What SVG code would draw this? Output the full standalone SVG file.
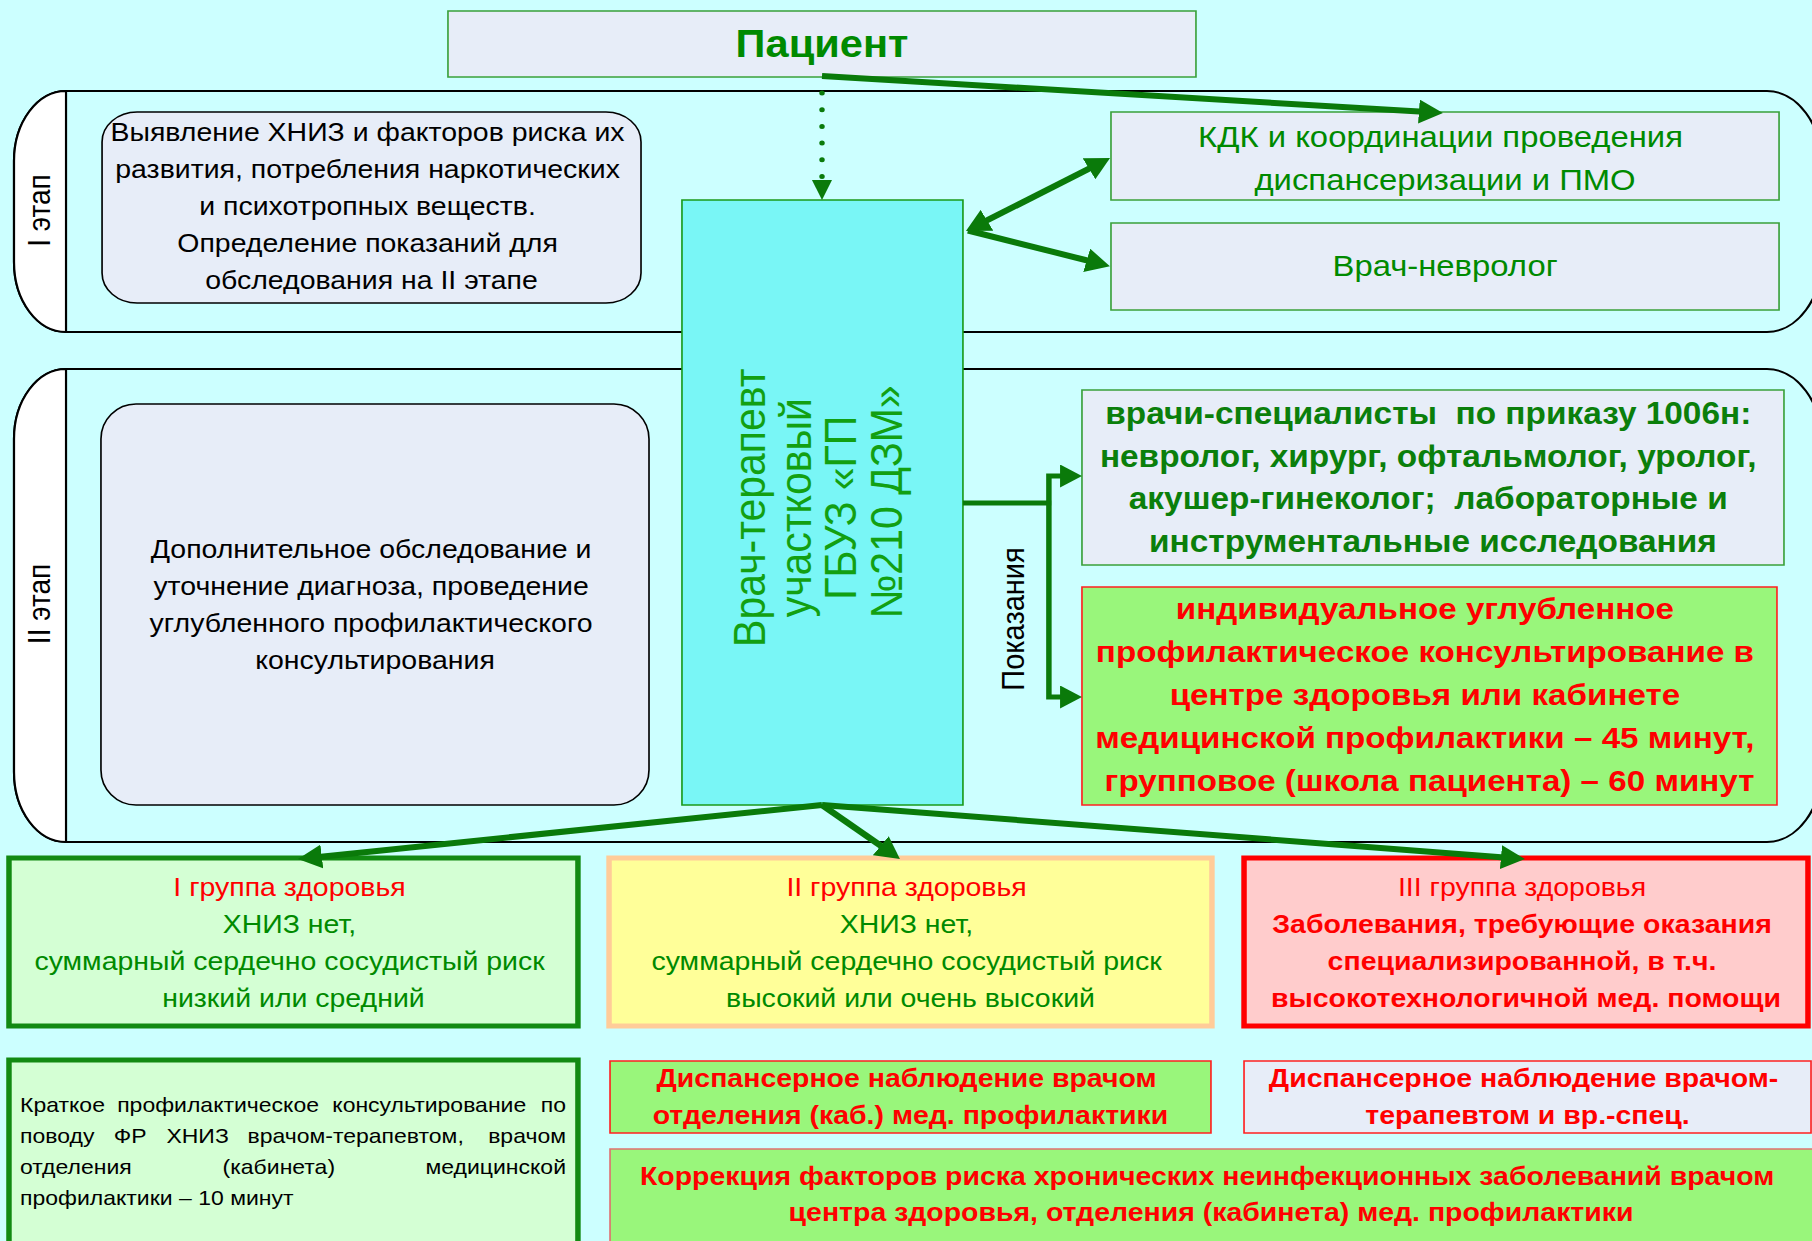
<svg xmlns="http://www.w3.org/2000/svg" width="1812" height="1241" viewBox="0 0 1812 1241">
<defs>
<style>
text{font-family:"Liberation Sans",Arial,sans-serif}
.c{text-anchor:middle}
.e{text-anchor:end}
.b{font-weight:bold}
.gr{fill:#008a00}
.gb{fill:#0b7f0b}
.rd{fill:#ff0000}
.bk{fill:#000}
.lane{fill:#ccffff;stroke:#000;stroke-width:2}
.cap{fill:#fff;stroke:#000;stroke-width:2}
.pale{fill:#e7edf8}
.lg{fill:#99f67b}
.gs{stroke:#3aa03a;stroke-width:1.5}
.rs{stroke:#ff2020;stroke-width:1.5}
.con{fill:none;stroke:#0a7a0a;stroke-width:6}
.con2{fill:none;stroke:#0a7a0a;stroke-width:5}
</style>
<marker id="ah" viewBox="0 0 22 24" markerWidth="22" markerHeight="24" refX="12" refY="12" orient="auto-start-reverse" markerUnits="userSpaceOnUse"><path d="M0,0 L22,12 L0,24 Z" fill="#0a7a0a"/></marker>
<marker id="ah2" viewBox="0 0 20 23" markerWidth="20" markerHeight="23" refX="10" refY="11.5" orient="auto-start-reverse" markerUnits="userSpaceOnUse"><path d="M0,0 L20,11.5 L0,23 Z" fill="#0a7a0a"/></marker>
</defs>
<rect width="1812" height="1241" fill="#ccffff"/>
<g transform="scale(1.095 1)">

<g id="lane1">
<path class="lane" d="M60.3,91 H1613.7 A50.3,75 0 0 1 1664,166 V257 A50.3,75 0 0 1 1613.7,332 H60.3 A47.5,70 0 0 1 12.8,262 V161 A47.5,70 0 0 1 60.3,91 Z"/>
<path class="cap" d="M60.3,91 A47.5,70 0 0 0 12.8,161 V262 A47.5,70 0 0 0 60.3,332 Z"/>
<g transform="translate(46,210.5) rotate(-90)"><text class="c bk" font-size="28">I этап</text></g>
</g>

<g id="lane2">
<path class="lane" d="M60.3,369 H1613.7 A50.3,75 0 0 1 1664,444 V767 A50.3,75 0 0 1 1613.7,842 H60.3 A47.5,70 0 0 1 12.8,772 V439 A47.5,70 0 0 1 60.3,369 Z"/>
<path class="cap" d="M60.3,369 A47.5,70 0 0 0 12.8,439 V772 A47.5,70 0 0 0 60.3,842 Z"/>
<g transform="translate(46,604) rotate(-90)"><text class="c bk" font-size="28">II этап</text></g>
</g>

<g id="patient">
<rect x="409.1" y="11" width="683.1" height="66" class="pale gs"/>
<text x="750.7" y="57" class="c b gr" font-size="38">Пациент</text>
</g>

<g id="stage1-desc">
<rect x="93.2" y="112" width="492.2" height="191" rx="32" ry="30" class="pale" stroke="#000" stroke-width="1.5"/>
<text class="c bk" font-size="26">
<tspan x="339.3" y="141">Выявление ХНИЗ и факторов риска их</tspan>
<tspan x="339.3" y="178">развития, потребления наркотических</tspan>
<tspan x="339.3" y="215">и психотропных веществ.</tspan>
<tspan x="339.3" y="252">Определение показаний для</tspan>
<tspan x="339.3" y="289">обследования на II этапе</tspan>
</text>
</g>

<g id="therapist">
<rect x="622.8" y="200" width="256.6" height="605" fill="#79f6f6" stroke="#1a9a1a" stroke-width="1.5"/>
<g transform="translate(698.6,502) rotate(-90)">
<text class="c" font-size="41" fill="#12a012">
<tspan x="0" y="0">Врач-терапевт</tspan>
<tspan x="0" y="41.6">участковый</tspan>
<tspan x="0" y="83.1">ГБУЗ «ГП</tspan>
<tspan x="0" y="124.7">№210 ДЗМ»</tspan>
</text>
</g>
</g>

<g id="kdk">
<rect x="1014.6" y="112" width="610.1" height="88" class="pale gs"/>
<text class="c gr" font-size="30">
<tspan x="1319.7" y="147">КДК и координации проведения</tspan>
<tspan x="1319.7" y="190">диспансеризации и ПМО</tspan>
</text>
</g>

<g id="neurologist">
<rect x="1014.6" y="223" width="610.1" height="87" class="pale gs"/>
<text x="1319.7" y="276" class="c gr" font-size="30">Врач-невролог</text>
</g>

<g id="stage2-desc">
<rect x="92.2" y="404" width="500.5" height="401" rx="32" ry="35" class="pale" stroke="#000" stroke-width="1.5"/>
<text class="c bk" font-size="26">
<tspan x="342.5" y="558">Дополнительное обследование и</tspan>
<tspan x="342.5" y="595">уточнение диагноза, проведение</tspan>
<tspan x="342.5" y="632">углубленного профилактического</tspan>
<tspan x="342.5" y="669">консультирования</tspan>
</text>
</g>

<g id="specialists">
<rect x="988.1" y="390" width="641.1" height="175" class="pale gs"/>
<text class="c b gb" font-size="30.5">
<tspan x="1308.6" y="424">врачи-специалисты&#160; по приказу 1006н:</tspan>
<tspan x="1308.6" y="467">невролог, хирург, офтальмолог, уролог,</tspan>
<tspan x="1308.6" y="509">акушер-гинеколог;&#160; лабораторные и</tspan>
<tspan x="1308.6" y="552">инструментальные исследования</tspan>
</text>
</g>

<g id="counseling">
<rect x="988.1" y="587" width="634.7" height="218" class="lg rs"/>
<text class="c b rd" font-size="30.3">
<tspan x="1305.5" y="619">индивидуальное углубленное</tspan>
<tspan x="1305.5" y="662">профилактическое консультирование в</tspan>
<tspan x="1305.5" y="705">центре здоровья или кабинете</tspan>
<tspan x="1305.5" y="748">медицинской профилактики – 45 минут,</tspan>
<tspan x="1305.5" y="791">групповое (школа пациента) – 60 минут</tspan>
</text>
</g>

<g id="group1">
<rect x="8.2" y="858" width="519.6" height="168" fill="#d4ffd4" stroke="#128a12" stroke-width="5"/>
<text class="c" font-size="26">
<tspan x="268" y="896" class="rd">I группа здоровья</tspan>
<tspan x="268" y="933" class="gr">ХНИЗ нет,</tspan>
<tspan x="268" y="970" class="gr">суммарный сердечно сосудистый риск</tspan>
<tspan x="268" y="1007" class="gr">низкий или средний</tspan>
</text>
</g>

<g id="group2">
<rect x="556.2" y="858" width="550.6" height="168" fill="#ffff99" stroke="#ffcc99" stroke-width="5"/>
<text class="c" font-size="26">
<tspan x="831.5" y="896" class="rd">II группа здоровья</tspan>
<tspan x="831.5" y="933" class="gr">ХНИЗ нет,</tspan>
<tspan x="831.5" y="970" class="gr">суммарный сердечно сосудистый риск</tspan>
<tspan x="831.5" y="1007" class="gr">высокий или очень высокий</tspan>
</text>
</g>

<g id="group3">
<rect x="1136.1" y="858" width="515" height="168" fill="#ffcccc" stroke="#ff0000" stroke-width="5"/>
<text class="c rd" font-size="26">
<tspan x="1393.6" y="896">III группа здоровья</tspan>
<tspan x="1393.6" y="933" class="b">Заболевания, требующие оказания</tspan>
<tspan x="1393.6" y="970" class="b">специализированной, в т.ч.</tspan>
<tspan x="1393.6" y="1007" class="b">высокотехнологичной мед. помощи</tspan>
</text>
</g>

<g id="brief">
<rect x="8.2" y="1060" width="519.6" height="200" fill="#d4ffd4" stroke="#128a12" stroke-width="5"/>
<g class="bk" font-size="21">
<text x="18.3" y="1112">Краткое</text>
<text x="107" y="1112">профилактическое</text>
<text x="303.5" y="1112">консультирование</text>
<text x="516.9" y="1112" class="e">по</text>
<text x="18.3" y="1143">поводу</text>
<text x="104" y="1143">ФР</text>
<text x="152" y="1143">ХНИЗ</text>
<text x="226" y="1143">врачом-терапевтом,</text>
<text x="516.9" y="1143" class="e">врачом</text>
<text x="18.3" y="1174">отделения</text>
<text x="203.3" y="1174">(кабинета)</text>
<text x="516.9" y="1174" class="e">медицинской</text>
<text x="18.3" y="1205">профилактики – 10 минут</text>
</g>
</g>

<g id="disp1">
<rect x="557.1" y="1061" width="548.8" height="72" class="lg rs"/>
<text class="c b rd" font-size="26">
<tspan x="831.5" y="1087">Диспансерное наблюдение врачом</tspan>
<tspan x="831.5" y="1124">отделения (каб.) мед. профилактики</tspan>
</text>
</g>

<g id="disp2">
<rect x="1136.1" y="1061" width="517.8" height="72" class="pale rs"/>
<text class="c b rd" font-size="26">
<tspan x="1395" y="1087">Диспансерное наблюдение врачом-</tspan>
<tspan x="1395" y="1124">терапевтом и вр.-спец.</tspan>
</text>
</g>

<g id="correction">
<rect x="557.1" y="1149" width="1110" height="110" fill="#99f67b" stroke="#e07070" stroke-width="1.5"/>
<text class="c b rd" font-size="26">
<tspan x="1106" y="1185">Коррекция факторов риска хронических неинфекционных заболеваний врачом</tspan>
<tspan x="1106" y="1221">центра здоровья, отделения (кабинета) мед. профилактики</tspan>
</text>
</g>

<g id="connectors">
<path d="M750.7,93 V177" fill="none" stroke="#0a7a0a" stroke-width="5" stroke-linecap="round" stroke-dasharray="0 16.7"/>
<polygon points="741.5,180 759.8,180 750.7,200" fill="#0a7a0a"/>
<path class="con" d="M750.7,76 L1307.8,112.3" marker-end="url(#ah)"/>
<path class="con" d="M890.9,226.2 L1005,162.9" marker-start="url(#ah)" marker-end="url(#ah)"/>
<path class="con" d="M884,230.5 L1004,263.5" marker-end="url(#ah)"/>
<path class="con2" d="M879.4,503 H960"/>
<path class="con2" d="M978.1,476 H957.9 V697 H978.1" marker-start="url(#ah2)" marker-end="url(#ah2)"/>
<g transform="translate(935,619) rotate(-90)"><text class="c bk" font-size="29">Показания</text></g>
<path class="con" d="M750.7,805 L282,857.9" marker-end="url(#ah)"/>
<path class="con" d="M750.7,805 L813.9,853" marker-end="url(#ah)"/>
<path class="con" d="M750.7,805 L1382.7,858.2" marker-end="url(#ah)"/>
</g>

</g>
</svg>
